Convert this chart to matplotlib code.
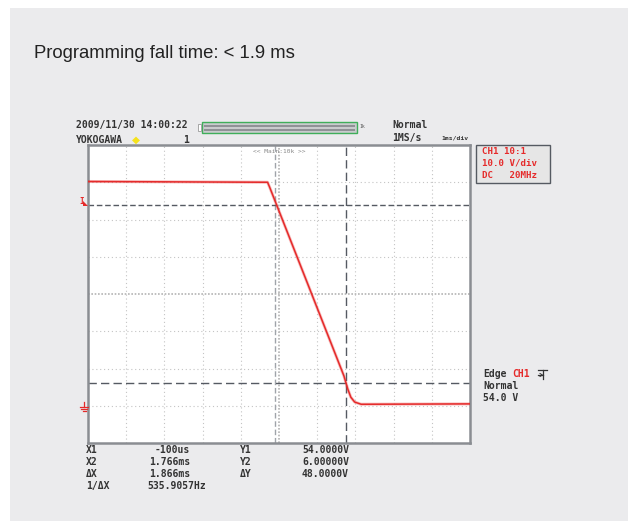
import matplotlib
matplotlib.use("Agg")
import matplotlib.pyplot as plt
from matplotlib.patches import Rectangle, Polygon
from matplotlib.lines import Line2D

W, H = 638, 531

# waveform (time in ms, voltage in V)
time_ms = [-5.0, -0.30, -0.25, 1.70, 1.80, 1.88, 1.98, 2.15, 5.0]
volts = [60.2, 60.0, 58.8, 8.0, 4.5, 2.3, 1.0, 0.4, 0.5]

# cursors
x1_ms, x2_ms = -0.1, 1.766
y1_v, y2_v = 54.0, 6.0

readout_labels = ["X1", "X2", "\u0394X", "1/\u0394X"]
readout_x = ["-100us", "1.766ms", "1.866ms", "535.9057Hz"]
readout_ylabels = ["Y1", "Y2", "\u0394Y", ""]
readout_y = ["54.0000V", "6.00000V", "48.0000V", ""]

ch_info = ["CH1 10:1", "10.0 V/div", "DC   20MHz"]

panel = "#ebebed"
red = "#e52a2a"
ink = "#333333"
mono = "DejaVu Sans Mono"
fs = 7.0


def px(x, y):
    return x / W, 1 - y / H


def pline(xs, ys, color, lw=0.9):
    fig.lines.append(Line2D([x / W for x in xs], [1 - y / H for y in ys],
                            transform=fig.transFigure, color=color, lw=lw, zorder=5))


def label(x, y, s, color=ink, size=fs, ha="left"):
    fig.text(*px(x, y), s, fontsize=size, family=mono, weight="bold",
             color=color, va="center", ha=ha, zorder=4)


fig = plt.figure(figsize=(W / 100, H / 100), dpi=100)
fig.patch.set_facecolor("white")
fig.patches.append(Rectangle(px(10, 521), 618 / W, 513 / H, transform=fig.transFigure,
                             facecolor=panel, edgecolor="none", zorder=-10))

fig.text(*px(34, 58), "Programming fall time: < 1.9 ms", fontsize=13.3,
         family="Liberation Sans", color="#222222", va="baseline")

# scope screen
ax = fig.add_axes([88 / W, (H - 443) / H, 382 / W, 298 / H])
ax.set_zorder(1)
ax.set_xlim(-5, 5)
ax.set_ylim(-10, 70)
ax.set_xticks([])
ax.set_yticks([])
for s in ax.spines.values():
    s.set_color("#8a8d92")
    s.set_linewidth(1.8)

for i in range(-4, 5):
    if i == 0:
        ax.axvline(0, color="#b4b4b4", lw=1.2, ls=(0, (1, 1)), zorder=1)
    else:
        ax.axvline(i, color="#c4c4c4", lw=0.8, ls=(0, (1, 2.5)), zorder=1)
for j in range(0, 70, 10):
    if j == 30:
        ax.axhline(30, color="#b4b4b4", lw=1.2, ls=(0, (1, 1)), zorder=1)
    else:
        ax.axhline(j, color="#c4c4c4", lw=0.8, ls=(0, (1, 2.5)), zorder=1)

ax.axvline(x1_ms, color="#a0a4aa", lw=1.0, ls=(0, (4, 2)), zorder=2)
ax.axvline(x2_ms, color="#555a62", lw=1.0, ls=(0, (6, 3)), zorder=2)
ax.axhline(y1_v, color="#555a62", lw=1.0, ls=(0, (4, 2)), zorder=2)
ax.axhline(y2_v, color="#555a62", lw=1.0, ls=(0, (6, 3)), zorder=2)

ax.plot(time_ms, volts, color=red, lw=2.2, alpha=0.3, zorder=3)
ax.plot(time_ms, volts, color=red, lw=1.1, zorder=4)

ax.text(0.5, 0.985, "<< Main:10k >>", transform=ax.transAxes, ha="center", va="top",
        fontsize=4.5, family=mono, color="#888888")

# markers on the left edge
fig.text(*px(79, 202), "I", fontsize=5.5, color=red, family=mono, weight="bold",
         va="center")
fig.patches.append(Polygon([px(83, 201), px(83, 206), px(88, 206)], closed=True,
                           transform=fig.transFigure, facecolor=red, edgecolor="none",
                           zorder=5))
pline([84, 84], [402, 407], red)
pline([80, 88], [407, 407], red)
pline([81, 87], [409, 409], red)
pline([82.5, 85.5], [411, 411], red)

# header
label(76, 125, "2009/11/30 14:00:22")
label(76, 140, "YOKOGAWA")
fig.text(*px(136, 140), "\u25c6", fontsize=7.5, color="#f5e21b", va="center", ha="center")
label(186, 140, "1", ha="center")

fig.patches.append(Rectangle(px(202, 133), 155 / W, 11 / H, transform=fig.transFigure,
                             facecolor="#c9cbcd", edgecolor="#3fae5a", lw=1.0, zorder=2))
for yy in (125.5, 129.5):
    fig.patches.append(Rectangle(px(204, yy + 1.5), 151 / W, 2 / H, transform=fig.transFigure,
                                 facecolor="#8f9296", edgecolor="none", zorder=3))
fig.patches.append(Rectangle(px(198, 131), 3 / W, 7 / H, transform=fig.transFigure,
                             facecolor="white", edgecolor="#999999", lw=0.6, zorder=2))
fig.text(*px(359, 127), "1k", fontsize=3.5, family=mono, color="#555555", va="center")

label(392, 125, "Normal")
label(392, 138, "1MS/s")
label(441, 138, "1ms/div", size=4.6)

# channel box
fig.patches.append(Rectangle(px(476, 183), 74 / W, 38 / H, transform=fig.transFigure,
                             facecolor="#e6e6e6", edgecolor="#555a62", lw=1.0, zorder=2))
for k, line in enumerate(ch_info):
    label(482, 151 + k * 12, line, color=red, size=6.6)

# trigger info
label(483, 374, "Edge")
label(512, 374, "CH1", color=red)
pline([538, 547], [370, 370], ink)
pline([542.5, 542.5], [370, 379], ink)
pline([538, 542.5], [375, 375], ink)
pline([540, 542.5, 540], [373.5, 375, 376.5], ink, lw=0.7)
label(483, 386, "Normal")
label(483, 398, "54.0 V")

# cursor readouts
for k in range(4):
    y = 450 + k * 12
    label(86, y, readout_labels[k])
    label(190 if k < 3 else 206, y, readout_x[k], ha="right")
    label(240, y, readout_ylabels[k])
    label(349, y, readout_y[k], ha="right")

fig.savefig("out.png", dpi=100)
